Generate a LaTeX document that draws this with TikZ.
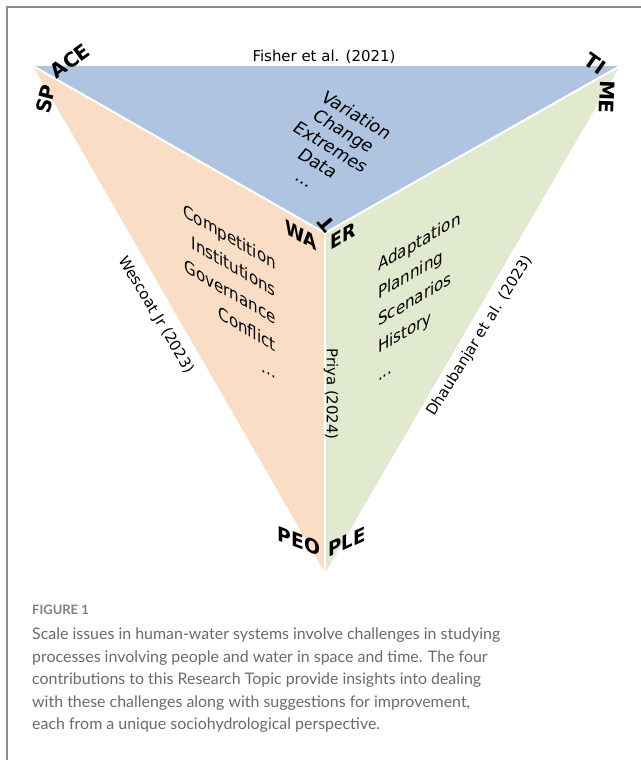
\documentclass[tikz,border=0pt]{standalone}
\usepackage{fontspec}
\setmainfont{DejaVu Sans}
\newfontfamily\capfont{Lato}
\definecolor{topblue}{HTML}{AFC4E0}
\definecolor{leftorange}{HTML}{FADDC5}
\definecolor{rightgreen}{HTML}{E1EACF}
\definecolor{framegray}{HTML}{8C8C8C}
\definecolor{capgray}{HTML}{6A6A6A}
\begin{document}
\begin{tikzpicture}[x=1bp, y=-1bp]
    \tikzstyle{item} = [font=\fontsize{17.5}{27.5}\selectfont, inner sep=0pt]
    \tikzstyle{ref} = [font=\fontsize{15}{18}\selectfont, inner sep=0pt]
    \tikzstyle{big} = [font=\fontsize{20}{24}\selectfont\bfseries, inner sep=0pt]
    \tikzstyle{leftface} = [cm={0.866,-0.5,0,1,(0,0)}]
    \tikzstyle{rightface} = [cm={0.866,0.5,0,1,(0,0)}]
    \tikzstyle{topface} = [cm={0.857,-0.515,0.63,0.78,(0,0)}, font=\fontsize{17.5}{20.6}\selectfont]
    \tikzstyle{sep} = [white, line width=2bp]
    \useasboundingbox (0,0) rectangle (641,760);
    \draw [framegray, line width=1.5bp] (7,760) -- (7,7) -- (641,7);

    \coordinate (S) at (33,66);
    \coordinate (T) at (620,66);
    \coordinate (W) at (325,233);
    \coordinate (P) at (325,573);
    \fill [topblue] (S) -- (T) -- (W) -- cycle;
    \fill [leftorange] (S) -- (W) -- (P) -- cycle;
    \fill [rightgreen] (W) -- (T) -- (P) -- cycle;
    \draw [sep] (S) -- (W) -- (T);
    \draw [sep] (W) -- (P);

    \node [item, topface, align=center] (time) at (331,147) {Variation\\Change\\Extremes\\Data\\...};
    \node [item, leftface, align=right, anchor=east] (space) at (276,318) {Competition\\Institutions\\Governance\\Conflict\\...};
    \node [item, rightface, align=left, anchor=west] (people) at (378,320) {Adaptation\\Planning\\Scenarios\\History\\...};

    \node [ref] (fisher) at (324,57) {Fisher et al. (2021)};
    \node [ref, rotate=-59] (wescoat) at (156,315) {Wescoat Jr (2023)};
    \node [ref, rotate=-90] (priya) at (331,394) {Priya (2024)};
    \node [ref, rotate=58] (dhaub) at (480,336) {Dhaubanjar et al. (2023)};

    \node [big, rotate=75] (sp) at (46,99) {SP};
    \node [big, rotate=36] (ace) at (70,61) {ACE};
    \node [big, rotate=-35] (ti) at (595,64) {TI};
    \node [big, rotate=-92] (me) at (607,97) {ME};
    \node [big, leftface] (wa) at (301,235) {WA};
    \node [big, rotate=130] (t) at (327,224) {T};
    \node [big, rightface] (er) at (343,236) {ER};
    \node [big, cm={0.94,-0.35,0,1,(0,0)}] (peo) at (299,541) {PEO};
    \node [big, cm={0.91,0.42,0,1,(0,0)}] (ple) at (347,542) {PLE};

    \node [anchor=base west, inner sep=0pt, text=capgray!85, font=\capfont\bfseries\fontsize{13}{15}\selectfont] (fig) at (32,614) {FIGURE 1};
    \node [anchor=north west, inner sep=0pt, align=left, text=capgray, font=\capfont\fontsize{16}{22.5}\selectfont] (cap) at (32,628)
        {Scale issues in human-water systems involve challenges in studying\\
         processes involving people and water in space and time. The four\\
         contributions to this Research Topic provide insights into dealing\\
         with these challenges along with suggestions for improvement,\\
         each from a unique sociohydrological perspective.};
\end{tikzpicture}
\end{document}
